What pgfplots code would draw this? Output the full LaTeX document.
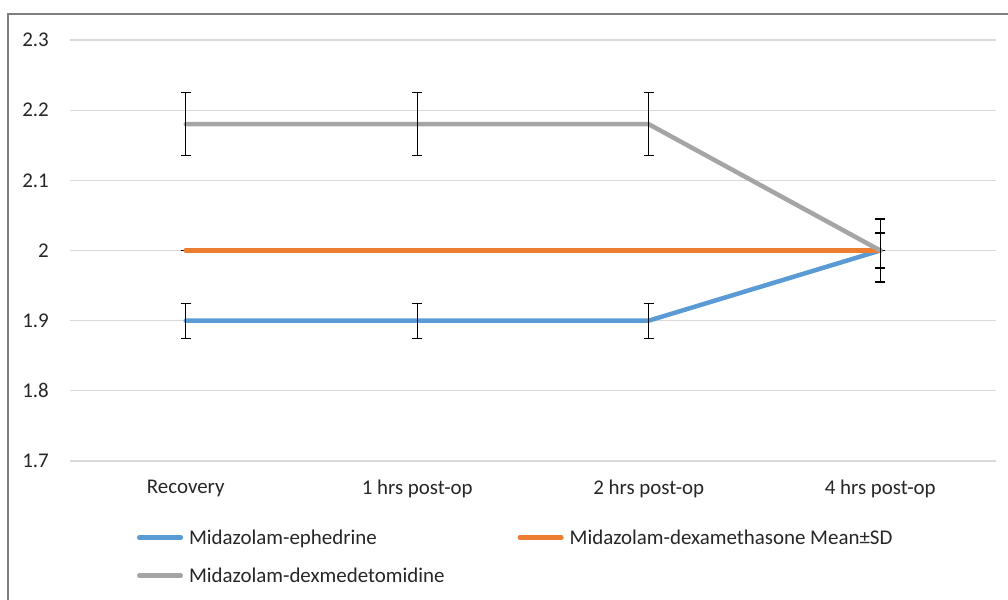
\documentclass[border=0pt]{standalone}
\usepackage{fontspec}
\setmainfont{Carlito}
\usepackage{pgfplots}
\pgfplotsset{compat=1.18}
\definecolor{cblue}{HTML}{5B9BD5}
\definecolor{corange}{HTML}{ED7D31}
\definecolor{cgrey}{HTML}{A5A5A5}
\definecolor{gridc}{HTML}{D9D9D9}
\definecolor{framec}{HTML}{7F7F7F}
\definecolor{txt}{HTML}{262626}
\newcommand{\chartfont}{\fontsize{21}{25}\selectfont}
\begin{document}
\begin{tikzpicture}
\useasboundingbox (0,0) rectangle (1008bp,600bp);
\draw[color=framec, line width=1.5bp] (8bp,0) -- (8bp,586bp) -- (1008bp,586bp);
\begin{axis}[
  at={(70bp,139bp)}, anchor=south west,
  scale only axis, width=926bp, height=421bp,
  xmin=-0.5, xmax=3.5, ymin=1.7, ymax=2.3,
  xtick={0,1,2,3},
  xticklabels={Recovery, 1 hrs post-op, 2 hrs post-op, 4 hrs post-op},
  ytick={1.7,1.8,1.9,2,2.1,2.2,2.3},
  yticklabels={1.7,1.8,1.9,2,2.1,2.2,2.3},
  axis lines=left,
  axis line style={draw=none},
  major tick length=0pt,
  ymajorgrids, grid style={color=gridc, line width=1.3bp},
  ticklabel style={font=\chartfont, text=txt},
  yticklabel style={anchor=east, inner sep=0pt, xshift=-21bp},
  xticklabel style={anchor=north, inner sep=0pt, yshift=-19bp},
  legend columns=2,
  legend cell align=left,
  legend style={draw=none, fill=none, inner sep=0pt, outer sep=0pt,
    at={(0.0724,-0.163)}, anchor=north west,
    font=\chartfont, text=txt,
    nodes={inner sep=0pt},
    row sep=22bp,
    /tikz/every odd column/.append style={column sep=6bp},
    /tikz/every even column/.append style={column sep=73bp}},
  legend image code/.code={\draw[#1, line width=4.5bp, line cap=round] (2.25bp,0) -- (43.75bp,0);},
  every axis plot/.append style={line width=4.5bp, line cap=round, mark=none},
  error bars/error bar style={black, line width=1.2bp, line cap=butt},
  error bars/error mark options={rotate=90, black, mark size=5bp, line width=1.2bp},
]
\addplot[color=cblue, error bars/.cd, y dir=both, y explicit] coordinates {
  (0,1.9) +- (0,0.025)
  (1,1.9) +- (0,0.025)
  (2,1.9) +- (0,0.025)
  (3,2.0) +- (0,0.025)
};
\addlegendentry{Midazolam-ephedrine}
\addplot[draw=none, forget plot, error bars/.cd, y dir=both, y explicit] coordinates {
  (0,2.0) +- (0,0)
  (1,2.0) +- (0,0)
  (2,2.0) +- (0,0)
  (3,2.0) +- (0,0)
};
\addplot[color=corange] coordinates {
  (0,2.0) (1,2.0) (2,2.0) (3,2.0)
};
\addlegendentry{Midazolam-dexamethasone Mean±SD}
\addplot[color=cgrey, error bars/.cd, y dir=both, y explicit] coordinates {
  (0,2.18) +- (0,0.045)
  (1,2.18) +- (0,0.045)
  (2,2.18) +- (0,0.045)
  (3,2.0) +- (0,0.045)
};
\addlegendentry{Midazolam-dexmedetomidine}
\end{axis}
\end{tikzpicture}
\end{document}
